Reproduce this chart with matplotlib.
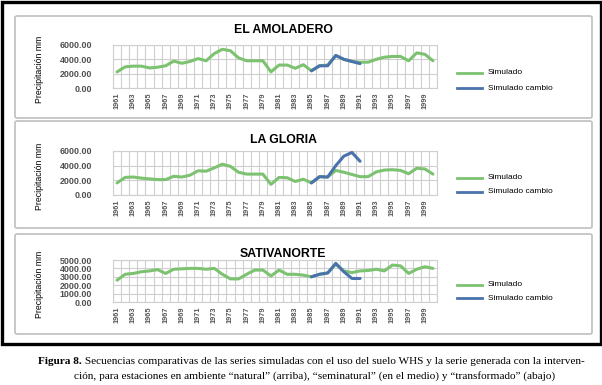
import matplotlib
matplotlib.use("Agg")
import matplotlib.pyplot as plt
from matplotlib.patches import FancyBboxPatch, Rectangle
import numpy as np

# years on the category axis
years = list(range(1961, 2001))
change_years = list(range(1985, 1992))

# El Amoladero
amol_sim = [2250, 2950, 3050, 3050, 2800, 2900, 3100, 3750, 3450, 3700,
            4100, 3800, 4800, 5400, 5200, 4200, 3800, 3800, 3800, 2250,
            3200, 3200, 2750, 3250, 2400, 3100, 3200, 4500, 4000, 3700,
            3600, 3600, 4000, 4300, 4400, 4400, 3800, 4900, 4700, 3800]
amol_change = [2400, 3100, 3100, 4550, 4000, 3700, 3400]

# La Gloria
glor_sim = [1650, 2400, 2450, 2300, 2200, 2100, 2100, 2550, 2450, 2700,
            3300, 3250, 3700, 4200, 3900, 3100, 2850, 2850, 2850, 1450,
            2400, 2350, 1850, 2150, 1650, 2500, 2450, 3350, 3100, 2800,
            2500, 2500, 3150, 3400, 3450, 3350, 2900, 3650, 3550, 2850]
glor_change = [1650, 2500, 2450, 4000, 5300, 5800, 4600]

# Sativanorte
sati_sim = [2600, 3300, 3400, 3600, 3700, 3850, 3400, 3900, 3950, 4000,
            4000, 3900, 4000, 3300, 2750, 2750, 3300, 3800, 3800, 3100,
            3800, 3300, 3300, 3200, 3000, 3300, 3450, 4500, 3700, 3500,
            3700, 3750, 3900, 3700, 4400, 4300, 3400, 3900, 4200, 4000]
sati_change = [3000, 3300, 3450, 4600, 3600, 2800, 2800]

titles = ["EL AMOLADERO", "LA GLORIA", "SATIVANORTE"]
sims = [amol_sim, glor_sim, sati_sim]
changes = [amol_change, glor_change, sati_change]
ymaxes = [6000, 6000, 5000]
ysteps = [2000, 2000, 1000]

W, H = 602, 385
SANS = ["Liberation Sans", "DejaVu Sans"]
NARROW = ["Liberation Sans Narrow", "Liberation Sans", "DejaVu Sans"]
GREEN = "#7cc270"
BLUE = "#4a72ad"


def rect(x0, y0, x1, y1):
    # pixel box (from top-left) -> figure fraction
    return [x0 / W, 1 - y1 / H, (x1 - x0) / W, (y1 - y0) / H]


fig = plt.figure(figsize=(W / 100, H / 100), dpi=100)

# black outer frame
fig.patches.append(Rectangle((1.5 / W, 1 - 344 / H), (W - 3) / W, 342.5 / H,
                             transform=fig.transFigure, fill=False,
                             edgecolor="black", linewidth=2.4))

panel_boxes = [(15, 16, 592, 118), (15, 121, 592, 228), (15, 234, 592, 334)]
plot_boxes = [(113, 45, 437, 88), (113, 151, 437, 195), (113, 260, 437, 302)]
title_y = [30, 140, 254]
legend_y = [(73, 88), (178, 192), (285, 298)]

for k in range(3):
    px0, py0, px1, py1 = panel_boxes[k]
    fig.patches.append(FancyBboxPatch((px0 / W, 1 - py1 / H), (px1 - px0) / W, (py1 - py0) / H,
                                      boxstyle="round,pad=0,rounding_size=0.004",
                                      transform=fig.transFigure, fill=True, facecolor="white",
                                      edgecolor="#c4c4c4", linewidth=1.3))

    x0, y0, x1, y1 = plot_boxes[k]
    ax = fig.add_axes(rect(x0, y0, x1, y1))
    ax.set_zorder(3)
    idx = np.arange(len(years))
    cidx = [years.index(y) for y in change_years]
    ax.plot(idx, sims[k], color=GREEN, lw=2.2, solid_capstyle="round",
            solid_joinstyle="round", zorder=3)
    ax.plot(cidx, changes[k], color=BLUE, lw=2.2, solid_capstyle="round",
            solid_joinstyle="round", zorder=4)

    ax.set_xlim(-0.5, len(years) - 0.5)
    ax.set_ylim(0, ymaxes[k])
    ax.set_yticks(np.arange(0, ymaxes[k] + 1, ysteps[k]))
    ax.set_yticklabels([f"{v:.2f}" for v in np.arange(0, ymaxes[k] + 1, ysteps[k])],
                       fontsize=6.4, fontweight="bold", color="#505050", family=SANS)
    ax.set_xticks(idx[::2])
    ax.set_xticklabels([str(y) for y in years[::2]], rotation=90, fontsize=5.3,
                       color="#555555", family=SANS, fontweight="bold")
    ax.set_xticks(np.arange(-0.5, len(years)), minor=True)
    ax.tick_params(axis="both", which="both", length=0)
    ax.tick_params(axis="y", pad=15)
    ax.tick_params(axis="x", pad=3)
    ax.grid(True, which="minor", axis="x", color="#cfcfcf", lw=0.8)
    ax.grid(True, which="major", axis="y", color="#cfcfcf", lw=0.8)
    for s in ax.spines.values():
        s.set_color("#cfcfcf")
        s.set_linewidth(0.8)
    ax.set_axisbelow(True)

    fig.text(40 / W, 1 - ((y0 + y1) / 2 + 3) / H, "Precipitación mm", rotation=90,
             ha="center", va="center", fontsize=6.3, family=SANS, zorder=5)
    fig.text(283 / W, 1 - title_y[k] / H, titles[k], ha="center", va="center",
             fontsize=8.8, fontweight="bold", family=SANS, zorder=5)

    ly1, ly2 = legend_y[k]
    for ly, col, lab in [(ly1, GREEN, "Simulado"), (ly2, BLUE, "Simulado cambio")]:
        ln = plt.Line2D([457 / W, 482 / W], [1 - ly / H, 1 - ly / H],
                        transform=fig.transFigure, color=col, lw=2.0, zorder=5)
        fig.lines.append(ln)
        fig.text(488 / W, 1 - ly / H, lab, ha="left", va="center",
                 fontsize=6, family=NARROW, zorder=5)

# caption
SERIF = ["Liberation Serif", "DejaVu Serif"]
cap_bold = "Figura 8."
cap_rest = (" Secuencias comparativas de las series simuladas con el uso del suelo WHS "
            "y la serie generada con la interven-")
cap_line2 = ("ción, para estaciones en ambiente “natural” (arriba), “seminatural” "
             "(en el medio) y “transformado” (abajo)")
fs = 8.1
t1 = fig.text(38 / W, 1 - 361 / H, cap_bold, ha="left", va="center", fontsize=fs,
              fontweight="bold", family=SERIF)
fig.canvas.draw()
bw = t1.get_window_extent().width
fig.text((38 + bw) / W, 1 - 361 / H, cap_rest, ha="left", va="center", fontsize=fs,
         family=SERIF)
fig.text(315 / W, 1 - 376 / H, cap_line2, ha="center", va="center", fontsize=fs,
         family=SERIF)

fig.savefig("out.png", dpi=100)
